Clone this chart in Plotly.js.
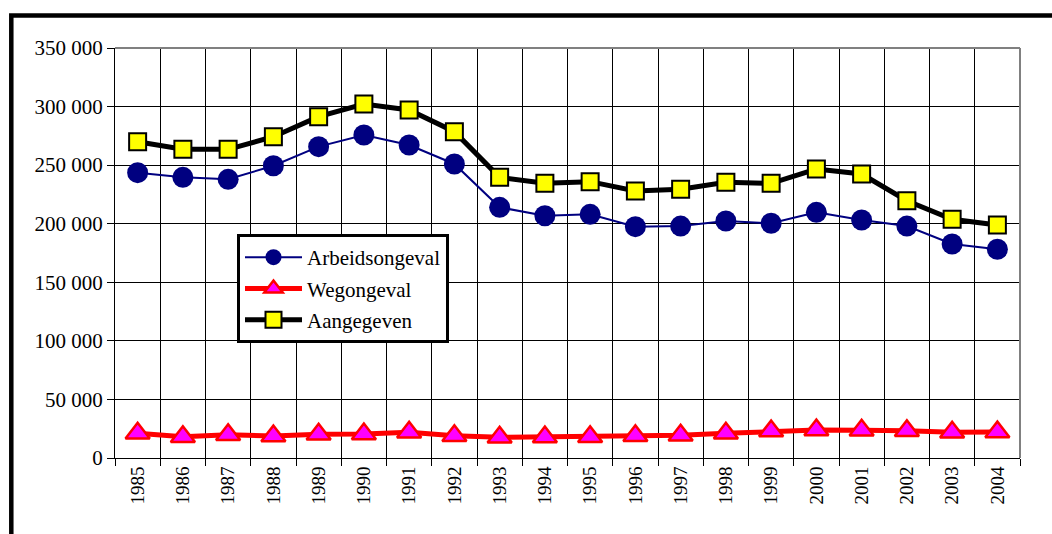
<!DOCTYPE html>
<html>
<head>
<meta charset="utf-8">
<script src="https://cdn.plot.ly/plotly-3.0.1.min.js"></script>
<style>
  html, body { margin: 0; padding: 0; background: #fff; }
  #chart { width: 1052px; height: 534px; }
</style>
</head>
<body>
<div id="chart"></div>
<script>
const years = ['1985','1986','1987','1988','1989','1990','1991','1992','1993','1994',
               '1995','1996','1997','1998','1999','2000','2001','2002','2003','2004'];
const arbeidsongeval = [243600, 239600, 237900, 249500, 265800, 275700, 267200, 251000, 214000, 206800,
                        208000, 197500, 198000, 202300, 200400, 209700, 203200, 198000, 182700, 178200];
const wegongeval = [21100, 18200, 19900, 18800, 20200, 20500, 21900, 19000, 17700, 17900,
                    18200, 19000, 19400, 21100, 23000, 23900, 23600, 23300, 21900, 22200];
const aangegeven = [270000, 263500, 263500, 274300, 291400, 302200, 297100, 278600, 239600, 234500,
                    235900, 227900, 229400, 235400, 234500, 246700, 242400, 219600, 203800, 198900];
const yTicks = [0, 50000, 100000, 150000, 200000, 250000, 300000, 350000];

const font = "'Liberation Serif', 'Times New Roman', serif";

const traces = [
  {
    x: years, y: arbeidsongeval, name: 'Arbeidsongeval', type: 'scatter', mode: 'lines+markers',
    line: {color: '#000080', width: 2},
    marker: {symbol: 'circle', size: 21, color: '#000080', line: {color: '#000080', width: 0}},
    legendgroup: 'a'
  },
  {
    x: years, y: wegongeval, name: 'Wegongeval', type: 'scatter', mode: 'lines+markers',
    line: {color: '#FF0000', width: 5},
    marker: {symbol: 'triangle-up', size: 21, color: '#FF00FF', line: {color: '#FF0000', width: 2.5}},
    legendgroup: 'b'
  },
  {
    x: years, y: aangegeven, name: 'Aangegeven', type: 'scatter', mode: 'lines+markers',
    line: {color: '#000000', width: 5},
    marker: {symbol: 'square', size: 17, color: '#FFFF00', line: {color: '#000000', width: 2}},
    legendgroup: 'c'
  }
];

const L = 115, R = 32, T = 48, B = 76, W = 1052, H = 534;
const pw = W - L - R, ph = H - T - B;
const px = v => (v - L) / pw;
const py = v => (H - B - v) / ph;

const layout = {
  width: W, height: H,
  margin: {l: L, r: R, t: T, b: B, pad: 0},
  paper_bgcolor: '#ffffff',
  plot_bgcolor: '#ffffff',
  separators: ', ',
  font: {family: font, color: '#000', size: 20},
  showlegend: true,
  legend: {
    x: px(237), y: py(234), xanchor: 'left', yanchor: 'top',
    bgcolor: '#ffffff', bordercolor: '#000', borderwidth: 3,
    font: {family: font, size: 21, color: '#000'},
    traceorder: 'grouped', tracegroupgap: 1,
    itemwidth: 57
  },
  xaxis: {
    type: 'category',
    range: [-0.5, 19.5],
    autorange: false,
    tickson: 'boundaries',
    showgrid: true, gridcolor: '#000', gridwidth: 1,
    ticks: 'outside', ticklen: 7, tickcolor: '#000', tickwidth: 1,
    tickangle: -90,
    tickfont: {family: font, size: 19, color: '#000'},
    showline: true, linecolor: '#000', linewidth: 1,
    zeroline: false, fixedrange: true
  },
  yaxis: {
    range: [0, 350000],
    autorange: false,
    tickvals: yTicks,
    tickformat: ',d',
    showgrid: true, gridcolor: '#000', gridwidth: 1,
    ticks: 'outside', ticklen: 7, tickcolor: '#000', tickwidth: 1,
    tickfont: {family: font, size: 21, color: '#000'},
    showline: true, linecolor: '#000', linewidth: 1,
    zeroline: false, fixedrange: true
  },
  shapes: [
    {type: 'line', xref: 'paper', yref: 'paper', x0: 0, x1: 1, y0: 1, y1: 1,
     line: {color: '#808080', width: 2}},
    {type: 'line', xref: 'paper', yref: 'paper', x0: 1, x1: 1, y0: 0, y1: 1,
     line: {color: '#808080', width: 2}},
    {type: 'rect', xref: 'paper', yref: 'paper',
     x0: px(11.3), x1: px(1070), y0: py(15.5), y1: py(560),
     line: {color: '#000', width: 4.5}, fillcolor: 'rgba(0,0,0,0)', layer: 'above'}
  ]
};

Plotly.newPlot('chart', traces, layout, {displayModeBar: false, staticPlot: true});
</script>
</body>
</html>
